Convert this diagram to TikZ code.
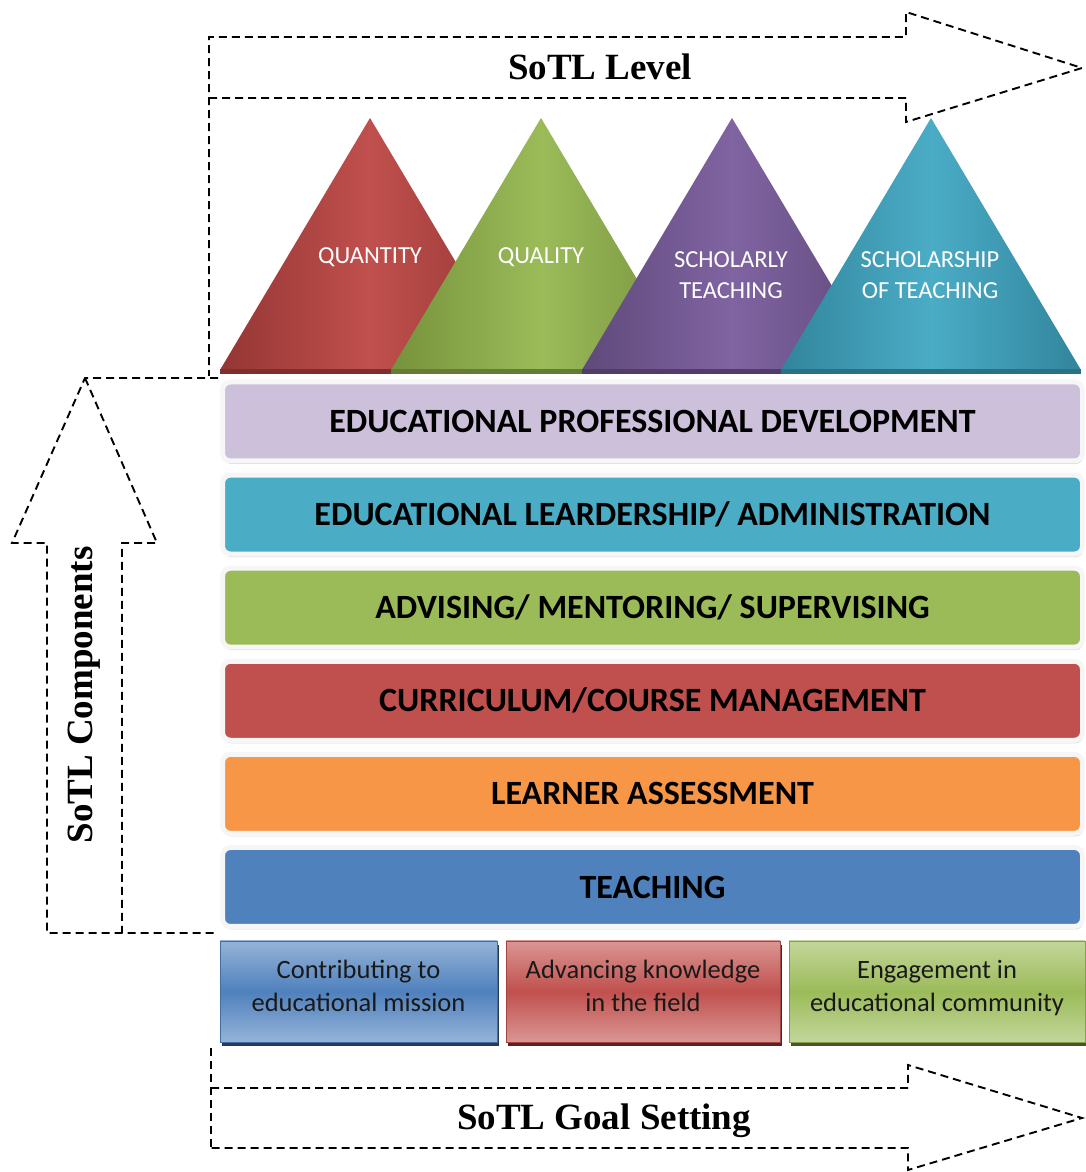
\documentclass[tikz,border=0pt]{standalone}
\usepackage{fontspec}
\setmainfont{Liberation Serif}
\newfontfamily\boxfont{Carlito}
\usetikzlibrary{shadows}

\begin{document}
\begin{tikzpicture}[x=1pt, y=1pt,
    dashedArrow/.style={black, line width=1.9pt, dash pattern=on 8pt off 5pt},
    titleText/.style={font=\bfseries\fontsize{37}{40}\selectfont},
    levelText/.style={white, align=center, font=\boxfont\fontsize{24.5}{31}\selectfont},
    componentBar/.style={rounded corners=8pt, line width=5pt, draw=gray!7,
        minimum width=860pt, minimum height=79pt, inner sep=0pt,
        drop shadow={shadow xshift=1pt, shadow yshift=-3pt, opacity=0.3},
        font=\boxfont\bfseries\fontsize{34}{36}\selectfont},
    goalBox/.style={minimum height=101pt, inner sep=0pt, align=center, thin,
        text depth=12pt, font=\boxfont\fontsize{26.5}{33}\selectfont, text=black!90}]

    \definecolor{triRed}{HTML}{C0504D}
    \definecolor{triRedDark}{HTML}{943634}
    \definecolor{triGreen}{HTML}{9BBB59}
    \definecolor{triGreenDark}{HTML}{76923C}
    \definecolor{triPurple}{HTML}{8064A2}
    \definecolor{triPurpleDark}{HTML}{5F497A}
    \definecolor{triTeal}{HTML}{4BACC6}
    \definecolor{triTealDark}{HTML}{31859C}

    \definecolor{barLavender}{HTML}{CCC0DA}
    \definecolor{barCyan}{HTML}{4BACC6}
    \definecolor{barGreen}{HTML}{9BBB59}
    \definecolor{barRed}{HTML}{C0504D}
    \definecolor{barOrange}{HTML}{F79646}
    \definecolor{barBlue}{HTML}{4F81BD}

    \definecolor{goalBlue}{HTML}{4F81BD}
    \definecolor{goalBlueLight}{HTML}{95B3D7}
    \definecolor{goalRed}{HTML}{C0504D}
    \definecolor{goalRedLight}{HTML}{D99694}
    \definecolor{goalGreen}{HTML}{9BBB59}
    \definecolor{goalGreenLight}{HTML}{C3D69B}

    \useasboundingbox (0,0) rectangle (1085,1172);

    % Level triangles, each one lying over the previous
    \foreach \x/\light/\dark in {370/triRed/triRedDark, 541/triGreen/triGreenDark,
                                 732/triPurple/triPurpleDark, 931/triTeal/triTealDark}
    {
        \shade[left color=\dark, right color=\dark, middle color=\light]
            (\x-150,802) -- (\x,1054) -- (\x+150,802) -- cycle;
        \fill[\dark!85!black] (\x-150,798) rectangle (\x+150,803);
    }

    \node[levelText] (quantity) at (370,915) {QUANTITY};
    \node[levelText] (quality) at (541,915) {QUALITY};
    \node[levelText] (scholarly) at (731,897) {SCHOLARLY\\TEACHING};
    \node[levelText] (scholarship) at (930,897) {SCHOLARSHIP\\OF TEACHING};

    % Component bars, top to bottom
    \foreach \name/\col/\txt [count=\i from 0] in {
        development/barLavender/{EDUCATIONAL PROFESSIONAL DEVELOPMENT},
        leadership/barCyan/{EDUCATIONAL LEARDERSHIP/ ADMINISTRATION},
        advising/barGreen/{ADVISING/ MENTORING/ SUPERVISING},
        curriculum/barRed/{CURRICULUM/COURSE MANAGEMENT},
        assessment/barOrange/{LEARNER ASSESSMENT},
        teaching/barBlue/{TEACHING}}
        \node[componentBar, fill=\col] (\name) at (652.5,750.5-93.1*\i) {\txt};

    % Goal boxes
    \node[goalBox, minimum width=277pt, draw=goalBlue!85!black,
          top color=goalBlueLight, bottom color=goalBlueLight, middle color=goalBlue,
          drop shadow={shadow xshift=2pt, shadow yshift=-4pt, fill=goalBlue!45!black, opacity=1}]
        (mission) at (358.5,180.5) {Contributing to\\educational mission};
    \node[goalBox, minimum width=274pt, draw=goalRed!85!black,
          top color=goalRedLight, bottom color=goalRedLight, middle color=goalRed,
          drop shadow={shadow xshift=2pt, shadow yshift=-4pt, fill=goalRed!45!black, opacity=1}]
        (knowledge) at (643,180.5) {Advancing knowledge\\in the field};
    \node[goalBox, minimum width=296pt, draw=goalGreen!85!black,
          top color=goalGreenLight, bottom color=goalGreenLight, middle color=goalGreen,
          drop shadow={shadow xshift=2pt, shadow yshift=-4pt, fill=goalGreen!45!black, opacity=1}]
        (community) at (937,180.5) {Engagement in\\educational community};

    % SoTL Level arrow
    \draw[dashedArrow] (209,1074) -- (906,1074) -- (906,1050) -- (1082,1104)
        -- (906,1160) -- (906,1135) -- (209,1135) -- (209,796);
    \node[titleText] (level) at (600,1105) {SoTL Level};

    % SoTL Components arrow
    \coordinate (compTip) at (85,794);
    \draw[dashedArrow] (218,794) -- (compTip) -- (12,629) -- (47,629) -- (47,239) -- (215,239);
    \draw[dashedArrow] (compTip) -- (157,629) -- (122,629) -- (122,239);
    \node[titleText, rotate=90] (components) at (84,477) {SoTL Components};

    % SoTL Goal Setting arrow
    \draw[dashedArrow] (211,124) -- (211,22);
    \draw[dashedArrow] (211,84) -- (908,84) -- (908,107) -- (1082,54)
        -- (908,2) -- (908,24) -- (211,24);
    \node[titleText] (goal) at (604,51) {SoTL Goal Setting};

\end{tikzpicture}
\end{document}
